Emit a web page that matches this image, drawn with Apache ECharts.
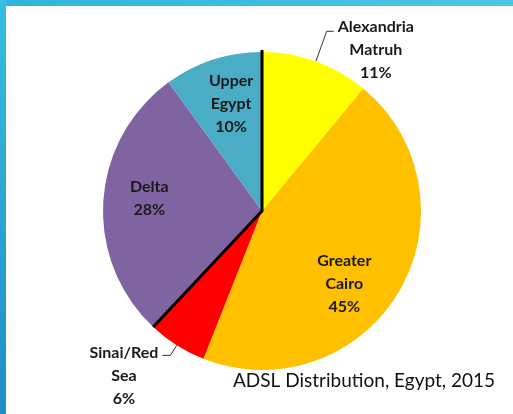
<!DOCTYPE html>
<html><head><meta charset="utf-8">
<script src="https://cdn.jsdelivr.net/npm/echarts@6/dist/echarts.min.js"></script>
<style>html,body{margin:0;padding:0;background:#fff}#c{width:513px;height:414px}</style>
</head><body><div id="c"></div>
<script>
const categories = ['Alexandria\nMatruh', 'Greater\nCairo', 'Sinai/Red\nSea', 'Delta', 'Upper\nEgypt'];
const values = [11, 45, 6, 28, 10];
const colors = ['#FFFF00', '#FFC000', '#FF0000', '#8064A2', '#4BACC6'];
const outsideLabels = [true, false, true, false, false];
const titleText = 'ADSL Distribution, Egypt, 2015';

const FONT = 'Lato';
const fmt = p => p.name.split('\n').map(s => '{t|' + s + '}').join('\n') + '\n{t|' + p.value + '%}';
const rich = { t: { align: 'center', fontSize: 16, fontWeight: 'bold', lineHeight: 23, fontFamily: FONT, color: '#1a1a1a' } };

// label nudges (padding) to mimic the original placement
const outsidePad = { 0: [38, 0, 0, 0], 2: [40, 0, 0, 0] };
const insidePad = { 1: [30, 30, 0, 0], 3: [0, 0, 12, 0], 4: [0, 0, 0, 8] };

const chart = echarts.init(document.getElementById('c'));
const CENTER = [262, 211], R = 159;

chart.setOption({
  animation: false,
  title: { text: titleText, left: 233, top: 371, padding: 0,
    textStyle: { fontFamily: FONT, fontSize: 19, fontWeight: 'normal', color: '#111' } },
  series: [{
    type: 'pie', center: CENTER, radius: [0, R], startAngle: 90, clockwise: true,
    avoidLabelOverlap: false, silent: true,
    data: categories.map((n, i) => ({
      name: n, value: values[i], itemStyle: { color: colors[i] },
      label: outsideLabels[i] ? { show: true, position: 'outside', padding: outsidePad[i], formatter: fmt, rich } : { show: false },
      labelLine: outsideLabels[i] ? { show: true, length: i === 0 ? 32 : 12, length2: i === 0 ? 7 : 8,
        lineStyle: { color: '#333', width: 1 } } : { show: false }
    })),
    label: { distanceToLabelLine: 4 }
  }, {
    type: 'pie', center: CENTER, radius: [60, 160], startAngle: 90, clockwise: true,
    avoidLabelOverlap: false, silent: true,
    itemStyle: { color: 'rgba(0,0,0,0)' },
    labelLine: { show: false },
    data: categories.map((n, i) => ({
      name: n, value: values[i],
      label: outsideLabels[i] ? { show: false } : { show: true, position: 'inside', padding: insidePad[i], formatter: fmt, rich }
    }))
  }]
});

// dark boundary lines at top and between Sinai/Delta, from the pie layout
const data = chart.getModel().getSeriesByIndex(0).getData();
const L0 = data.getItemLayout(0), L3 = data.getItemLayout(3);
const pt = (L, a, ext) => [L.cx + (L.r + ext) * Math.cos(a), L.cy + (L.r + ext) * Math.sin(a)];
chart.setOption({
  graphic: [
    { type: 'rect', shape: { x: 0, y: 0, width: 513, height: 6 }, style: { fill: new echarts.graphic.LinearGradient(0, 0, 1, 0, [{offset: 0, color: '#2fb3dd'}, {offset: 1, color: '#4cc6e6'}]) }, z: 100 },
    { type: 'rect', shape: { x: 0, y: 0, width: 6, height: 414 }, style: { fill: new echarts.graphic.LinearGradient(0, 0, 0, 1, [{offset: 0, color: '#36bde2'}, {offset: 1, color: '#1f8ec4'}]) }, z: 100 },
    { type: 'polyline', shape: { points: [pt(L0, L0.startAngle, 2), [L0.cx, L0.cy], pt(L3, L3.startAngle, 0)] },
      style: { stroke: '#000', lineWidth: 3, fill: null }, z: 50 }
  ]
});
</script></body></html>
